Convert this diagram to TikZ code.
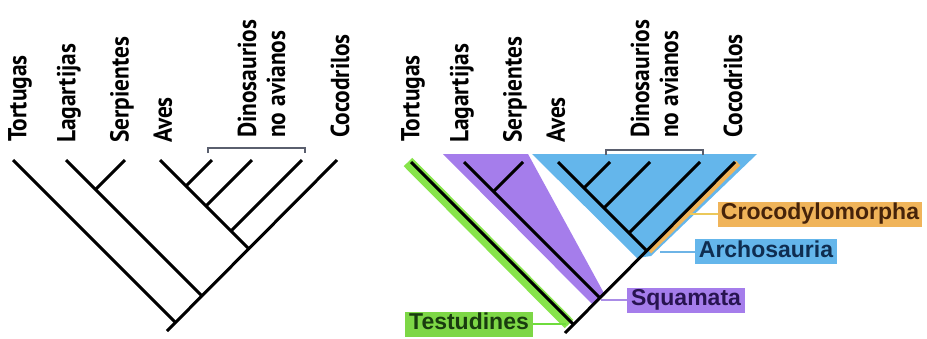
\documentclass[tikz,border=0pt]{standalone}
\usepackage{fontspec}
\setmainfont{Liberation Sans}
\newfontfamily\labfont[FakeStretch=0.9]{PT Sans}
\definecolor{gband}{RGB}{135,228,75}
\definecolor{gbox}{RGB}{125,215,70}
\definecolor{gtext}{RGB}{25,60,15}
\definecolor{pfill}{RGB}{165,125,235}
\definecolor{ptext}{RGB}{40,20,80}
\definecolor{bfill}{RGB}{100,182,235}
\definecolor{btext}{RGB}{15,45,80}
\definecolor{ofill}{RGB}{240,180,90}
\definecolor{otext}{RGB}{70,35,10}
\definecolor{gline}{RGB}{110,220,60}
\definecolor{pline}{RGB}{170,140,230}
\definecolor{bline}{RGB}{110,180,230}
\definecolor{oline}{RGB}{235,200,90}
\definecolor{brkc}{RGB}{90,95,110}
\tikzset{
  branch/.style={line width=3pt, black},
  brk/.style={line width=1.2pt, brkc},
  taxon/.style={rotate=90, anchor=west, inner sep=0pt,
    font=\labfont\bfseries\fontsize{26}{26}\selectfont},
  cladebox/.style={inner xsep=3pt, inner ysep=2pt, text height=16pt, text depth=5pt,
    font=\bfseries\fontsize{23}{23}\selectfont},
  conn/.style={line width=2pt}
}
\newcommand\phylotree{%
  \coordinate (root) at (167,331);
  \coordinate (tC) at (337,160);
  \coordinate (tT) at (13,160);   \coordinate (jT) at (175,322);
  \coordinate (tL) at (66,160);   \coordinate (jL) at (201.5,295.5);
  \coordinate (tS) at (125,160);  \coordinate (jS) at (95.5,189.5);
  \coordinate (tA) at (160,160);  \coordinate (jA) at (248.5,248.5);
  \coordinate (tD1) at (212,160); \coordinate (jD1) at (186,186);
  \coordinate (tD2) at (252,160); \coordinate (jD2) at (206,206);
  \coordinate (tD3) at (302,160); \coordinate (jD3) at (231,231);
  \coordinate (bL) at (208,153);  \coordinate (bR) at (305,153);
  \draw[branch] (root) -- (tC);
  \draw[branch] (tT) -- (jT);
  \draw[branch] (tL) -- (jL);
  \draw[branch] (tS) -- (jS);
  \draw[branch] (tA) -- (jA);
  \draw[branch] (tD1) -- (jD1);
  \draw[branch] (tD2) -- (jD2);
  \draw[branch] (tD3) -- (jD3);
  \draw[brk] (bL) -- ++(0,-5) -| (bR);
}
\newcommand\phylolabels{%
  \node[taxon] (nT) at (20,142) {Tortugas};
  \node[taxon] (nL) at (69,143) {Lagartijas};
  \node[taxon] (nS) at (122,143) {Serpientes};
  \node[taxon] (nA) at (163,143) {Aves};
  \node[taxon] (nD) at (247,138) {Dinosaurios};
  \node[taxon] (nN) at (276,138) {no avianos};
  \node[taxon] (nC) at (340,138) {Cocodrilos};
}
\begin{document}
\begin{tikzpicture}[x=1pt,y=-1pt]
  \fill[white] (0,0) rectangle (927,338);
  \useasboundingbox (0,0) rectangle (927,338);
  % clade shading (right tree)
  \fill[pfill] (443,154) -- (528,154) -- (605,295) -- (592,304) -- cycle;
  \fill[bfill] (532,154) -- (757,154) -- (651,256) -- (637,258) -- cycle;
  \coordinate (gTop) at (408,162);
  \coordinate (gBot) at (569,324);
  \draw[gband, line width=12pt] (gTop) -- (gBot);
  \coordinate (oTop) at (738,163);
  \coordinate (oBot) at (649,251);
  \draw[ofill, line width=6.5pt] (oTop) -- (oBot);
  % trees
  \begin{scope}[name prefix=L-]
    \phylotree
    \phylolabels
  \end{scope}
  \begin{scope}[xshift=398pt, yshift=-2pt, name prefix=R-]
    \phylotree
  \end{scope}
  \begin{scope}[xshift=393pt, name prefix=RL-]
    \phylolabels
  \end{scope}
  % clade labels
  \node[cladebox, fill=gbox, text=gtext, minimum width=128pt] (testud) at (469,324) {Testudines};
  \node[cladebox, fill=pfill, text=ptext, minimum width=118pt] (squam) at (686,300) {Squamata};
  \node[cladebox, fill=bfill, text=btext, minimum width=142pt] (archo) at (766,251.5) {Archosauria};
  \node[cladebox, fill=ofill, text=otext, minimum width=204pt] (croco) at (820,214) {Crocodylomorpha};
  \coordinate (cT) at (566,324);
  \coordinate (cS) at (601,300);
  \coordinate (cA) at (660,251.5);
  \coordinate (cC) at (690,214);
  \draw[conn, gline] (cT) -- (testud.east);
  \draw[conn, pline] (cS) -- (squam.west);
  \draw[conn, bline] (cA) -- (archo.west);
  \draw[conn, oline] (cC) -- (croco.west);
\end{tikzpicture}
\end{document}
